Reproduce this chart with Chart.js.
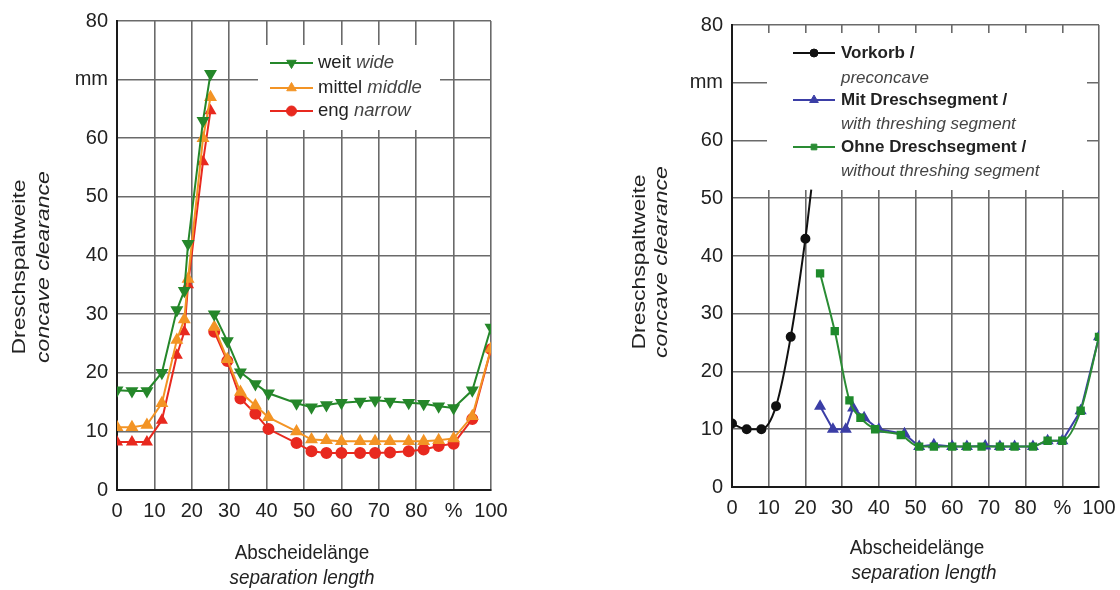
<!DOCTYPE html>
<html>
<head>
<meta charset="utf-8">
<script src="https://cdn.jsdelivr.net/npm/chart.js"></script>
<style>
  html, body { margin: 0; padding: 0; background: #fff; }
  #wrap { position: relative; width: 1120px; height: 590px; }
  .pane { position: absolute; top: 0; width: 560px; height: 590px; }
</style>
</head>
<body>
<div id="wrap">
  <div class="pane" style="left:0"><canvas id="leftChart" width="560" height="590"></canvas></div>
  <div class="pane" style="left:560px"><canvas id="rightChart" width="560" height="590"></canvas></div>
</div>
<script>
// tick labels (x in % of separation length, y in mm)
const xTickLabels = ['0', '10', '20', '30', '40', '50', '60', '70', '80', '%', '100'];
const yTickLabels = ['0', '10', '20', '30', '40', '50', '60', 'mm', '80'];

// left chart: concave setting wide / middle / narrow (null = break in the curve)
const leftX   = [0, 4, 8, 12, 16, 18, 19, 23, 25, 25.5, 26, 29.5, 33, 37, 40.5, 48, 52, 56, 60, 65, 69, 73, 78, 82, 86, 90, 95, 100];
const weitY   = [17, 16.9, 16.9, 20, 30.7, 34, 42, 63, 71, null, 30, 25.4, 20.1, 18.1, 16.5, 14.8, 14.1, 14.5, 14.9, 15.1, 15.3, 15.1, 14.9, 14.7, 14.3, 14, 17, 27.7];
const mittelY = [10.7, 10.7, 11.1, 14.8, 25.6, 29.1, 36, 60, 67, null, 27.8, 22.3, 16.7, 14.4, 12.4, 10, 8.6, 8.5, 8.3, 8.3, 8.3, 8.3, 8.3, 8.3, 8.5, 8.8, 12.6, 24.1];
const engY    = [8.2, 8.2, 8.2, 11.9, 23, 27, 35, 56, 64.7, null, 27, 22, 15.6, 13, 10.4, 8, 6.6, 6.3, 6.3, 6.3, 6.3, 6.4, 6.6, 6.9, 7.5, 7.9, 12.1, 24];

// right chart: preconcave / with / without threshing segment
const vorkorbX = [0, 4, 8, 12, 16, 20, 21.6];
const vorkorbY = [11, 10, 10, 14, 26, 43, 51.5];
const mitX     = [24, 27.5, 31, 33, 36, 40, 47, 51, 55, 60, 64, 69, 73, 77, 82, 86, 90, 95, 100];
const mitY     = [14, 10, 10, 13.7, 12, 10, 9.2, 7, 7.3, 7, 7, 7.1, 7, 7, 7, 8, 8, 13.2, 26];
const ohneX    = [24, 28, 32, 35, 39, 46, 51, 55, 60, 64, 68, 73, 77, 82, 86, 90, 95, 100];
const ohneY    = [37, 27, 15, 12, 10, 9, 7, 7, 7, 7, 7, 7, 7, 7, 8, 8, 13.2, 26];

const FONT = "'Liberation Sans', Arial, Helvetica, sans-serif";
const pts = (xs, ys) => xs.map((x, i) => ({ x: x, y: ys[i] }));

// legend box, legend rows and two-line axis titles
const decor = {
  id: 'decor',
  beforeDatasetsDraw(chart, args, o) {
    const ctx = chart.ctx;
    ctx.save();
    ctx.fillStyle = '#fff';
    ctx.fillRect(o.box[0], o.box[1], o.box[2], o.box[3]);
    ctx.textBaseline = 'middle';
    ctx.textAlign = 'left';
    o.rows.forEach(r => {
      if (r.ds !== undefined) {
        const ds = chart.data.datasets[r.ds];
        ctx.strokeStyle = ds.borderColor;
        ctx.fillStyle = ds.borderColor;
        ctx.lineWidth = ds.borderWidth;
        ctx.beginPath();
        ctx.moveTo(o.line[0], r.y);
        ctx.lineTo(o.line[1], r.y);
        ctx.stroke();
        ctx.lineWidth = 1;
        Chart.helpers.drawPoint(ctx, { pointStyle: ds.legendStyle, rotation: ds.pointRotation || 0, radius: ds.legendRadius, borderWidth: 1 },
          (o.line[0] + o.line[1]) / 2, r.y);
      }
      let x = o.textX;
      r.parts.forEach(p => {
        ctx.font = p[1];
        ctx.fillStyle = p[2] || '#222';
        ctx.fillText(p[0], x, r.y);
        x += ctx.measureText(p[0]).width;
      });
    });
    ctx.restore();
  },
  afterDraw(chart, args, o) {
    const ctx = chart.ctx;
    ctx.save();
    ctx.fillStyle = '#222';
    ctx.textAlign = 'center';
    ctx.textBaseline = 'middle';
    o.yTitle.forEach(t => {
      ctx.save();
      ctx.translate(t.x, t.y);
      ctx.rotate(-Math.PI / 2);
      ctx.scale(1, 0.8);
      ctx.font = t.font;
      ctx.fillText(t.text, 0, 0);
      ctx.restore();
    });
    o.xTitle.forEach(t => {
      ctx.save();
      ctx.translate(t.x, t.y);
      ctx.scale(0.9, 1);
      ctx.font = t.font;
      ctx.fillText(t.text, 0, 0);
      ctx.restore();
    });
    ctx.restore();
  }
};

function scales(yWidth, xHeight) {
  const grid = { color: '#6a6a6a', lineWidth: 1.6, drawTicks: false };
  const border = { color: '#1a1a1a', width: 2 };
  return {
    x: {
      type: 'linear', min: 0, max: 100,
      grid: grid, border: border,
      afterFit: s => { s.height = xHeight; s.paddingLeft = 0; s.paddingRight = 0; },
      ticks: { stepSize: 10, padding: 9, color: '#222', font: { family: FONT, size: 20 },
        maxRotation: 0, minRotation: 0, autoSkip: false,
        callback: (v, i) => xTickLabels[i] }
    },
    y: {
      min: 0, max: 80,
      grid: grid, border: border,
      afterFit: s => { s.width = yWidth; },
      ticks: { stepSize: 10, padding: 9, color: '#222', font: { family: FONT, size: 20 },
        callback: (v, i) => yTickLabels[i] }
    }
  };
}

const titles = (yx1, yx2, yy, xx1, xx2, xy) => ({
  yTitle: [
    { text: 'Dreschspaltweite', x: yx1, y: yy, font: '23px ' + FONT },
    { text: 'concave clearance', x: yx2, y: yy, font: 'italic 23px ' + FONT }
  ],
  xTitle: [
    { text: 'Abscheidelänge', x: xx1, y: xy, font: '21px ' + FONT },
    { text: 'separation length', x: xx2, y: xy + 25, font: 'italic 21px ' + FONT }
  ]
});

const base = { animation: false, responsive: false, plugins: { legend: { display: false }, tooltip: { enabled: false } } };

new Chart(document.getElementById('leftChart'), {
  type: 'line',
  data: {
    datasets: [
      { label: 'weit wide', data: pts(leftX, weitY), borderColor: '#25872a', borderWidth: 2,
        pointStyle: 'triangle', legendStyle: 'triangle', pointRotation: 180, pointRadius: 5.5, legendRadius: 5.5,
        pointBackgroundColor: '#25872a', pointBorderColor: '#25872a', tension: 0 },
      { label: 'mittel middle', data: pts(leftX, mittelY), borderColor: '#f39425', borderWidth: 2,
        pointStyle: 'triangle', legendStyle: 'triangle', pointRadius: 5.5, legendRadius: 5.5,
        pointBackgroundColor: '#f39425', pointBorderColor: '#f39425', tension: 0 },
      { label: 'eng narrow', data: pts(leftX, engY), borderColor: '#e8291f', borderWidth: 2,
        pointStyle: c => (c.raw && c.raw.x <= 25 ? 'triangle' : 'circle'), legendStyle: 'circle', pointRadius: 5, legendRadius: 5,
        pointBackgroundColor: '#e8291f', pointBorderColor: '#e8291f', tension: 0 }
    ]
  },
  options: Object.assign({}, base, {
    layout: { padding: { left: 57, right: 69, top: 18, bottom: 0 } },
    scales: scales(60, 100),
    plugins: Object.assign({}, base.plugins, {
      decor: Object.assign({
        box: [258, 45, 182, 85],
        line: [270, 313],
        textX: 318,
        rows: [
          { ds: 0, y: 63, parts: [['weit ', '18.5px ' + FONT], ['wide', 'italic 18.5px ' + FONT, '#444']] },
          { ds: 1, y: 88, parts: [['mittel ', '18.5px ' + FONT], ['middle', 'italic 18.5px ' + FONT, '#444']] },
          { ds: 2, y: 111, parts: [['eng ', '18.5px ' + FONT], ['narrow', 'italic 18.5px ' + FONT, '#444']] }
        ]
      }, titles(20, 44, 267, 302, 302, 553))
    })
  }),
  plugins: [decor]
});

new Chart(document.getElementById('rightChart'), {
  type: 'line',
  data: {
    datasets: [
      { label: 'Vorkorb', data: pts(vorkorbX, vorkorbY), borderColor: '#111', borderWidth: 2,
        pointStyle: 'circle', legendStyle: 'circle', legendRadius: 4,
        pointRadius: c => (c.dataIndex === vorkorbX.length - 1 ? 0 : 4),
        pointBackgroundColor: '#111', pointBorderColor: '#111', cubicInterpolationMode: 'monotone', order: 2 },
      { label: 'Mit Dreschsegment', data: pts(mitX, mitY), borderColor: '#3b3ea6', borderWidth: 2,
        pointStyle: 'triangle', legendStyle: 'triangle', pointRadius: 5, legendRadius: 5,
        pointBackgroundColor: '#3b3ea6', pointBorderColor: '#3b3ea6', tension: 0, order: 1 },
      { label: 'Ohne Dreschsegment', data: pts(ohneX, ohneY), borderColor: '#2a8c34', borderWidth: 2,
        pointStyle: 'rect', legendStyle: 'rect', pointRadius: 4.5, legendRadius: 4,
        pointBackgroundColor: '#1f8a2c', pointBorderColor: '#1f8a2c', cubicInterpolationMode: 'monotone', order: 0 }
    ]
  },
  options: Object.assign({}, base, {
    layout: { padding: { left: 112, right: 21, top: 25, bottom: 0 } },
    scales: scales(60, 103),
    plugins: Object.assign({}, base.plugins, {
      decor: Object.assign({
        box: [207, 33, 320, 157],
        line: [233, 275],
        textX: 281,
        rows: [
          { ds: 0, y: 53, parts: [['Vorkorb /', 'bold 17px ' + FONT]] },
          { y: 78, parts: [['preconcave', 'italic 17px ' + FONT, '#444']] },
          { ds: 1, y: 100, parts: [['Mit Dreschsegment /', 'bold 17px ' + FONT]] },
          { y: 124, parts: [['with threshing segment', 'italic 17px ' + FONT, '#444']] },
          { ds: 2, y: 147, parts: [['Ohne Dreschsegment /', 'bold 17px ' + FONT]] },
          { y: 171, parts: [['without threshing segment', 'italic 17px ' + FONT, '#444']] }
        ]
      }, titles(80, 102, 262, 357, 364, 548))
    })
  }),
  plugins: [decor]
});
</script>
</body>
</html>
